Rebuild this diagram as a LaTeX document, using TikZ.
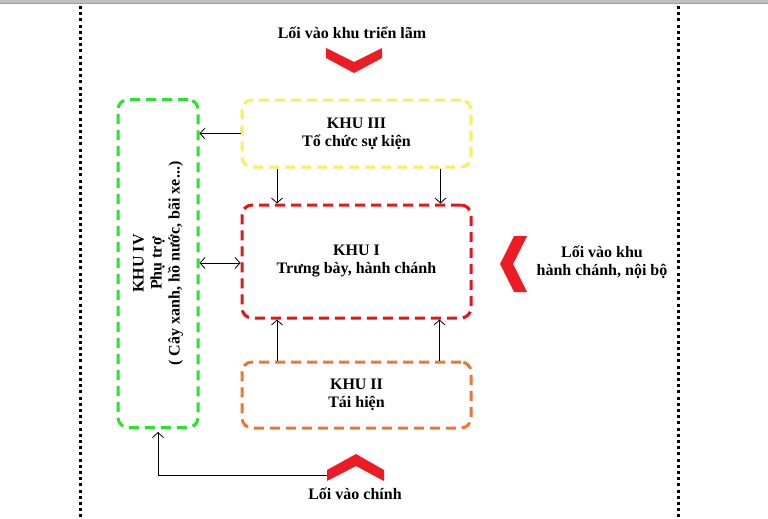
\documentclass[tikz,border=0pt]{standalone}
\usepackage{fontspec}
\setmainfont{Liberation Serif}
\usetikzlibrary{arrows.meta}
\definecolor{cgreen}{RGB}{40,228,40}
\definecolor{cyellow}{RGB}{250,238,90}
\definecolor{cred}{RGB}{228,20,30}
\definecolor{corange}{RGB}{238,118,52}
\definecolor{cchev}{RGB}{237,28,36}
\tikzset{
  zone/.style={draw=#1, line width=3pt, dash pattern=on 10pt off 6pt, rounded corners=10pt, align=center, font=\fontsize{16}{18}\selectfont\bfseries},
  arr/.style={draw=black, line width=0.8pt, -{Straight Barb[length=5pt,width=11pt]}},
  darr/.style={draw=black, line width=0.8pt, {Straight Barb[length=5pt,width=11pt]}-{Straight Barb[length=5pt,width=11pt]}},
  lbl/.style={align=center, font=\fontsize{16}{18}\selectfont\bfseries},
  chev/.style={fill=cchev, draw=none},
  dotline/.style={line width=3pt, dash pattern=on 3pt off 3.2pt, line cap=butt}
}
\begin{document}
\begin{tikzpicture}[x=1pt,y=-1pt]
\useasboundingbox (0,0) rectangle (768,519);
\fill[white] (0,0) rectangle (768,519);
% top gray bar
\fill[gray!50] (0,0) rectangle (768,3);
\draw[gray!75, line width=0.6pt] (0,3) -- (768,3);
% dotted border lines
\draw[dotline] (80.5,6) -- (80.5,519);
\draw[dotline] (678.5,6) -- (678.5,519);

% zones
\node[zone=cgreen, minimum width=80pt, minimum height=328pt] (k4) at (158,263.5) {};
\node[zone=cyellow, minimum width=229pt, minimum height=67pt] (k3) at (356.5,133.5) {KHU III\\Tổ chức sự kiện};
\node[zone=cred, minimum width=229pt, minimum height=113pt] (k1) at (356.5,261.5) {KHU I\\Trưng bày, hành chánh};
\node[zone=corange, minimum width=229pt, minimum height=66pt] (k2) at (356.5,395) {KHU II\\Tái hiện};
\node[lbl, rotate=90] (k4t) at (k4.center) {KHU IV\\Phụ trợ\\( Cây xanh, hồ nước, bãi xe...)};

% entrances
\node[lbl] (topin) at (352,33) {Lối vào khu triển lãm};
\fill[chev] (326,48) -- (354,62) -- (382,48) -- (382,58) -- (354,73) -- (326,58) -- cycle;
\node[lbl] (mainlbl) at (355,494) {Lối vào chính};
\fill[chev] (327,481) -- (327,470) -- (356,454) -- (384,470) -- (384,481) -- (356,466) -- cycle;
\coordinate (mainin) at (327,475);
\node[lbl] (sidelbl) at (602,262) {Lối vào khu\\hành chánh, nội bộ};
\fill[chev] (514,236) -- (527,236) -- (513,264) -- (527,292) -- (514,292) -- (500,264) -- cycle;

% connectors
\draw[arr] (k3.west) -- (k4.east |- k3.west);
\draw[arr] ([xshift=-79.5pt]k3.south) -- ([xshift=-79.5pt]k1.north);
\draw[arr] ([xshift=84pt]k3.south) -- ([xshift=84pt]k1.north);
\draw[darr] (k4.east |- 0,263) -- (k1.west |- 0,263);
\draw[arr] ([xshift=-79.5pt]k2.north) -- ([xshift=-79.5pt]k1.south);
\draw[arr] ([xshift=83pt]k2.north) -- ([xshift=83pt]k1.south);
\draw[arr, shorten >=3pt] (mainin) -| (k4.south);
\end{tikzpicture}
\end{document}
